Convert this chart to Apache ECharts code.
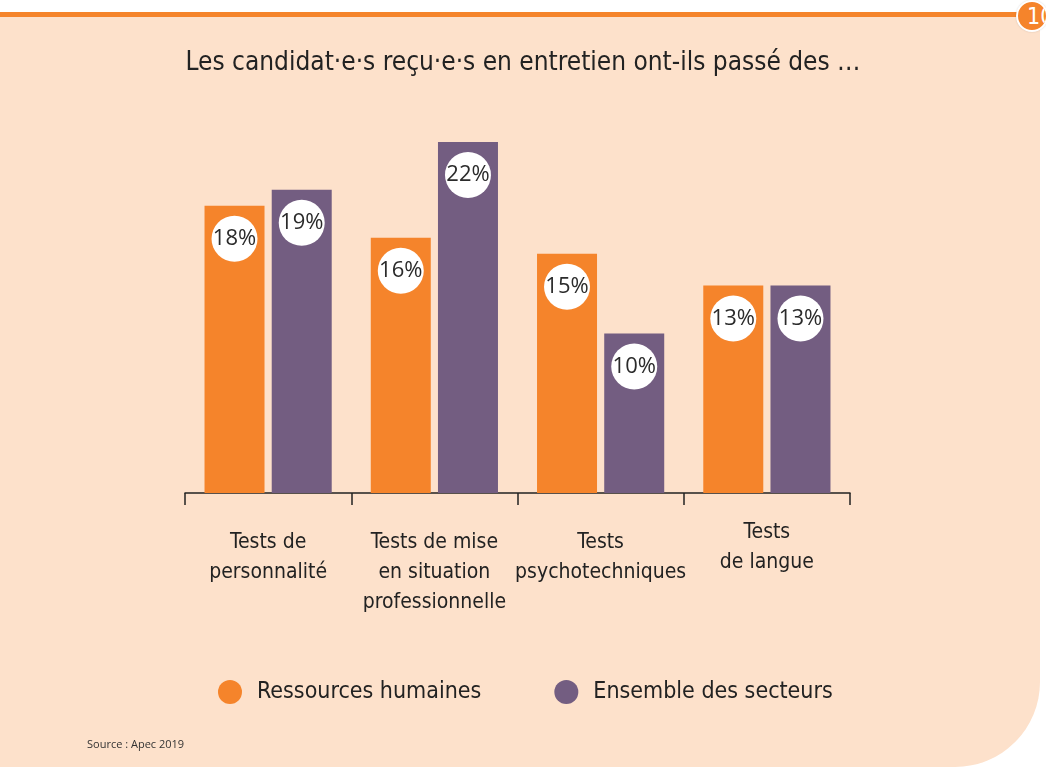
<!DOCTYPE html>
<html>
<head>
<meta charset="utf-8">
<script src="https://cdn.jsdelivr.net/npm/echarts@6/dist/echarts.min.js"></script>
<style>
  html, body { margin: 0; padding: 0; background: #fff; overflow: hidden; }
  #wrap { position: relative; width: 1046px; height: 773px; }
  .panel {
    position: absolute; left: 0; top: 17px; width: 1040px; height: 750px;
    background: #fde1cb; border-bottom-right-radius: 85px;
  }
  .topline { position: absolute; left: 0; top: 12px; width: 1025px; height: 5px; background: #f5842b; }
  .pageno {
    position: absolute; left: 1016px; top: 0px; width: 28px; height: 28px; border-radius: 50%;
    background: #f5842b; border: 2px solid #fff; box-shadow: 0 0 2px rgba(0,0,0,.15);
    color: #fff; font: 23px "DejaVu Sans Condensed", sans-serif; line-height: 28px; text-indent: 9px;
    white-space: nowrap; overflow: hidden;
  }
  #chart { position: absolute; left: 0; top: 0; width: 1046px; height: 773px; }
</style>
</head>
<body>
<div id="wrap">
  <div class="panel"></div>
  <div class="topline"></div>
  <div class="pageno">10</div>
  <div id="chart"></div>
</div>
<script>
// categories and values (in %)
const categories = [
  "Tests de\npersonnalité",
  "Tests de mise\nen situation\nprofessionnelle",
  "Tests\npsychotechniques",
  "Tests\nde langue"
];
const rhValues = [18, 16, 15, 13];
const allValues = [19, 22, 10, 13];
const seriesNames = ["Ressources humaines", "Ensemble des secteurs"];

const FONT = "'DejaVu Sans Condensed', 'Liberation Sans Narrow', sans-serif";
const ORANGE = "#f5842b";
const PURPLE = "#735d81";

const chart = echarts.init(document.getElementById("chart"));

const pctLabel = {
  show: true,
  position: "insideTop",
  distance: 10,
  formatter: "{c}%",
  width: 46,
  height: 46,
  lineHeight: 46,
  align: "center",
  backgroundColor: "#fff",
  borderRadius: 23,
  fontFamily: "'Open Sans', sans-serif",
  fontSize: 22,
  color: "#2b2b2b"
};

const option = {
  animation: false,
  title: {
    text: "Les candidat·e·s reçu·e·s en entretien ont-ils passé des …",
    left: "center",
    top: 45,
    textStyle: { fontFamily: FONT, fontSize: 26, fontWeight: "normal", color: "#222" }
  },
  legend: {
    top: 675,
    left: 213,
    icon: "circle",
    itemWidth: 24,
    itemHeight: 24,
    itemGap: 73,
    textStyle: { fontFamily: FONT, fontSize: 23, color: "#222", padding: [0, 0, 0, 10] },
    data: seriesNames
  },
  graphic: [{
    type: "text",
    left: 87,
    top: 739,
    style: { text: "Source : Apec 2019", fontFamily: "'Open Sans', sans-serif", fontSize: 11, fill: "#333" }
  }],
  grid: { left: 185, right: 196, top: 142, bottom: 280 },
  xAxis: {
    type: "category",
    data: categories.map((c, i) => i === 3
      ? { value: c, textStyle: { padding: [-10, 0, 0, 0] } }
      : c),
    axisLine: { lineStyle: { color: "#222", width: 1.5 } },
    axisTick: { show: true, length: 12, lineStyle: { color: "#222", width: 1.5 } },
    axisLabel: {
      interval: 0,
      margin: 35,
      fontFamily: FONT,
      fontSize: 21,
      lineHeight: 30,
      color: "#222"
    }
  },
  yAxis: {
    type: "value",
    min: 0,
    max: 22,
    show: false,
    splitLine: { show: false }
  },
  series: [
    {
      name: seriesNames[0],
      type: "bar",
      data: rhValues,
      barWidth: 60,
      barGap: "12%",
      itemStyle: { color: ORANGE },
      label: pctLabel
    },
    {
      name: seriesNames[1],
      type: "bar",
      data: allValues,
      barWidth: 60,
      itemStyle: { color: PURPLE },
      label: pctLabel
    }
  ]
};

chart.setOption(option);
</script>
</body>
</html>
